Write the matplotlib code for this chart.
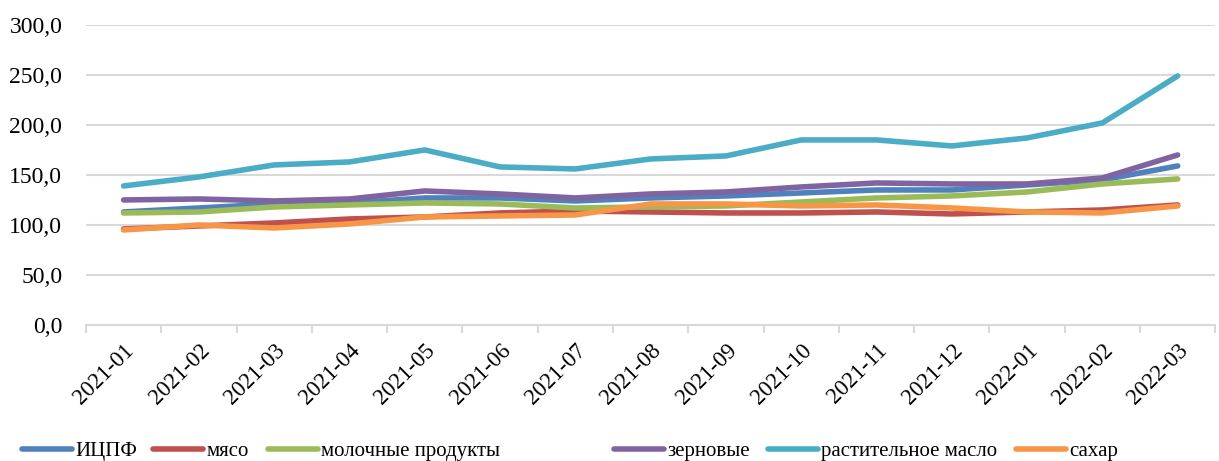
import numpy as np
import matplotlib.pyplot as plt
from matplotlib.ticker import FuncFormatter, FixedLocator

months = ["2021-01", "2021-02", "2021-03", "2021-04", "2021-05", "2021-06", "2021-07",
          "2021-08", "2021-09", "2021-10", "2021-11", "2021-12", "2022-01", "2022-02", "2022-03"]

ictpf = [113, 117, 121, 122, 127, 127, 124, 127, 129, 132, 135, 135, 140, 145, 159]
myaso = [96, 99, 102, 106, 108, 112, 114, 113, 112, 112, 113, 111, 113, 115, 120]
moloko = [112, 113, 118, 120, 122, 121, 117, 118, 119, 123, 127, 129, 133, 141, 146]
zerno = [125, 126, 124, 126, 134, 131, 127, 131, 133, 138, 142, 141, 141, 147, 170]
maslo = [139, 148, 160, 163, 175, 158, 156, 166, 169, 185, 185, 179, 187, 202, 249]
sakhar = [95, 100, 97, 101, 108, 109, 110, 121, 121, 119, 120, 117, 113, 112, 119]

series = [
    ("ИЦПФ", ictpf, "#4F81BD"),
    ("мясо", myaso, "#C0504D"),
    ("молочные продукты", moloko, "#9BBB59"),
    ("зерновые", zerno, "#8064A2"),
    ("растительное масло", maslo, "#4BACC6"),
    ("сахар", sakhar, "#F79646"),
]

# left edge of each legend entry (pixels), like in the Excel original
legend_x = [22, 153, 268, 614, 768, 1016]

plt.rcParams['font.family'] = ['Liberation Serif', 'DejaVu Serif']

W, H = 1219, 461
fig = plt.figure(figsize=(W / 100, H / 100), dpi=100)
ax = fig.add_axes([0.0705, 0.295, 0.9265, 0.651])

x = np.arange(len(months))
lines = []
for name, vals, col in series:
    ln, = ax.plot(x, vals, color=col, lw=4, label=name, solid_capstyle='round', solid_joinstyle='round')
    lines.append(ln)

ax.set_xlim(-0.5, len(months) - 0.5)
ax.set_ylim(0, 300)
ax.set_yticks(np.arange(0, 301, 50))
ax.yaxis.set_major_formatter(FuncFormatter(lambda v, p: f"{v:.1f}".replace(".", ",")))
ax.grid(axis='y', color='#D9D9D9', lw=1.5)
ax.set_axisbelow(True)

ax.set_xticks(x)
ax.set_xticklabels(months, rotation=45, ha='right', rotation_mode='anchor')
ax.xaxis.set_minor_locator(FixedLocator(np.arange(-0.5, len(months), 1)))
ax.tick_params(axis='x', which='major', length=0, labelsize=16.5, pad=11)
ax.tick_params(axis='x', which='minor', length=6, color='#D9D9D9', width=1.5)
ax.tick_params(axis='y', length=0, labelsize=17, pad=17)

for s in ['top', 'right', 'left']:
    ax.spines[s].set_visible(False)
ax.spines['bottom'].set_color('#D9D9D9')
ax.spines['bottom'].set_linewidth(1.5)

for ln, lx in zip(lines, legend_x):
    leg = fig.legend(handles=[ln], loc='center left', bbox_to_anchor=(lx / W, 1 - 451 / H),
                     frameon=False, fontsize=15, handlelength=2.4, handletextpad=0.15,
                     borderpad=0, borderaxespad=0)
    for h in leg.legend_handles:
        h.set_solid_capstyle('round')

fig.savefig("out.png", dpi=100)
